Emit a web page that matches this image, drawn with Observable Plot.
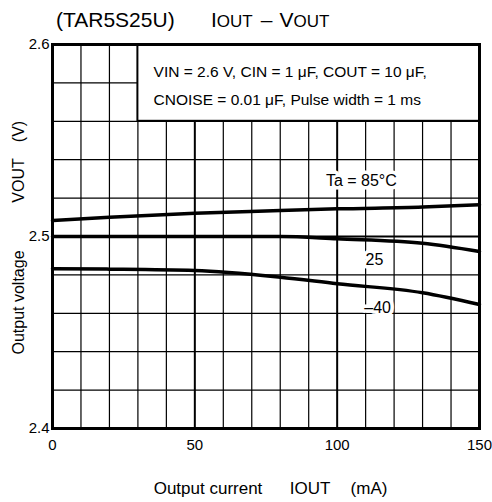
<!DOCTYPE html>
<html><head><meta charset="utf-8">
<script src="https://cdn.jsdelivr.net/npm/d3@7"></script>
<script src="https://cdn.jsdelivr.net/npm/@observablehq/plot@0.6"></script>
<style>
body{margin:0;background:#fff;font-family:"Liberation Sans",Arial,sans-serif;color:#000;}
#title{position:relative;height:36px;width:492px;font-size:21px;}
#title .a{position:absolute;left:56px;top:8px;white-space:pre;}
#title .b{position:absolute;left:211px;top:8px;white-space:pre;}
#title small{font-size:17px;}
#chart svg{display:block;}
</style></head><body>
<div id="title"><span class="a">(TAR5S25U)</span><span class="b">I<small>OUT</small><span style="margin-left:8px">–</span><span style="margin-left:7px">V</span><small>OUT</small></span></div>
<div id="chart"></div>
<script>
// Data
const current = [0, 20, 50, 80, 100, 130, 150];            // IOUT (mA)
const vout85  = [2.5083, 2.5100, 2.5121, 2.5135, 2.5144, 2.5153, 2.5165];
const vout25  = [2.5000, 2.5000, 2.5000, 2.5000, 2.4988, 2.4965, 2.4922];
const voutM40 = [2.4832, 2.4830, 2.4823, 2.4788, 2.4754, 2.4707, 2.4646];
const seriesNames = ["Ta = 85°C", "25", "–40"];
const labelX = [108.5, 113.1, 114.2];
const labelY = [2.5292, 2.4880, 2.4630];

const xTicks = [0, 50, 100, 150];
const yTicks = [2.4, 2.5, 2.6];
const gridX = [0,10,20,30,40,50,60,70,80,90,100,110,120,130,140,150];
const gridY = [2.40,2.42,2.44,2.46,2.48,2.50,2.52,2.54,2.56,2.58,2.60];
const majorX = [50, 100];
const majorY = [2.5];

const conditionLines = ["VIN = 2.6 V, CIN = 1 μF, COUT = 10 μF,", "CNOISE = 0.01 μF, Pulse width = 1 ms"];
const conditionX = [35.5, 35.5];
const conditionY = [2.5858, 2.5710];
const conditionBox = [{x1: 30, x2: 150, y1: 2.56, y2: 2.6}];

const seriesValues = [vout85, vout25, voutM40];
const rows = seriesNames.flatMap((s, k) => current.map((c, i) => ({series: s, current: c, vout: seriesValues[k][i]})));
const labels = seriesNames.map((s, k) => ({text: s, x: labelX[k], y: labelY[k]}));

const chart = Plot.plot({
  width: 492,
  height: 466,
  marginTop: 8,
  marginLeft: 52,
  marginRight: 13,
  marginBottom: 74,
  style: {fontFamily: '"Liberation Sans", Arial, sans-serif', fontSize: "15px", color: "#000", background: "#fff"},
  x: {domain: [0, 150]},
  y: {domain: [2.4, 2.6]},
  marks: [
    Plot.ruleX(gridX, {stroke: "#000", strokeOpacity: 1, strokeWidth: d => majorX.includes(d) ? 2 : 1.2}),
    Plot.ruleY(gridY, {stroke: "#000", strokeOpacity: 1, strokeWidth: d => majorY.includes(d) ? 2 : 1.2}),
    Plot.rect(conditionBox, {x1: "x1", x2: "x2", y1: "y1", y2: "y2", fill: "#fff", stroke: "#000", strokeWidth: 2}),
    Plot.text(conditionLines, {x: (d, i) => conditionX[i], y: (d, i) => conditionY[i], text: d => d, textAnchor: "start", fontSize: 15.5, fill: "#000"}),
    Plot.frame({stroke: "#000", strokeWidth: 3}),
    Plot.line(rows, {x: "current", y: "vout", z: "series", stroke: "#000", strokeWidth: 3.5, curve: "monotone-x"}),
    Plot.text(labels, {x: "x", y: "y", text: "text", fontSize: 16, fill: "#000", stroke: "#fff", strokeWidth: 7}),
    Plot.axisX(xTicks, {tickSize: 0, tickPadding: 11, fontSize: 15, label: null}),
    Plot.axisY(yTicks, {tickSize: 0, tickPadding: 3, fontSize: 15, tickFormat: d3.format(".1f"), label: null}),
    Plot.text(["Output voltage"], {frameAnchor: "left", textAnchor: "middle", rotate: -90, dx: -34, dy: 66, fontSize: 16, fill: "#000"}),
    Plot.text(["VOUT"], {frameAnchor: "left", textAnchor: "middle", rotate: -90, dx: -34, dy: -56, fontSize: 16, fill: "#000"}),
    Plot.text(["(V)"], {frameAnchor: "left", textAnchor: "middle", rotate: -90, dx: -34, dy: -105, fontSize: 16, fill: "#000"}),
    Plot.text(["Output current"], {frameAnchor: "bottom", textAnchor: "middle", dx: -58, dy: 65, fontSize: 17, fill: "#000"}),
    Plot.text(["IOUT"], {frameAnchor: "bottom", textAnchor: "middle", dx: 44, dy: 65, fontSize: 17, fill: "#000"}),
    Plot.text(["(mA)"], {frameAnchor: "bottom", textAnchor: "middle", dx: 103, dy: 65, fontSize: 17, fill: "#000"})
  ]
});
document.getElementById("chart").appendChild(chart);
</script>
</body></html>
